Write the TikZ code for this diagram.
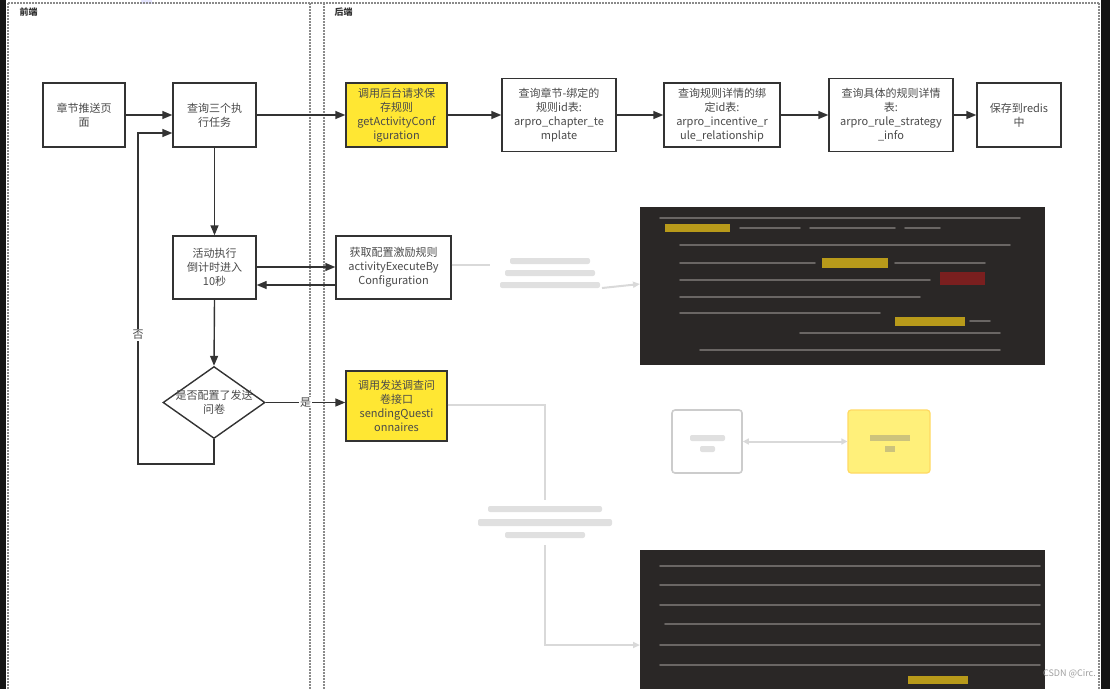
\documentclass[tikz,border=0pt]{standalone}
\usepackage{fontspec}
\setmainfont{Noto Sans CJK SC}
\usetikzlibrary{arrows.meta,shapes.geometric}
\definecolor{ink}{HTML}{333333}
\definecolor{txt}{HTML}{4A4A4A}
\definecolor{hl}{HTML}{FFE733}
\definecolor{hlsoft}{HTML}{FFF07A}
\definecolor{frame}{HTML}{8A8A8A}
\definecolor{dark}{HTML}{2A2726}
\definecolor{codeline}{HTML}{6A6664}
\definecolor{codeyel}{HTML}{B89A1A}
\definecolor{codered}{HTML}{7A1F1F}
\begin{document}
\begin{tikzpicture}[x=1pt,y=-1pt,
  every node/.style={font=\fontsize{11}{14}\selectfont, text=txt},
  box/.style={draw=ink, line width=1.4pt, fill=white, inner sep=0pt, align=center},
  ybox/.style={box, fill=hl},
  flow/.style={draw=ink, line width=1.4pt, -{Triangle[length=10pt,width=8pt]}},
  lane/.style={draw=frame, line width=1.2pt, dash pattern=on 1.5pt off 1.5pt},
  ghost/.style={draw=gray!30, line width=2pt},
  smudge/.style={fill=gray!24, draw=none, rounded corners=2pt},
  code/.style={draw=codeline, line width=1.6pt, line cap=round},
  lbl/.style={fill=white, inner sep=1pt, font=\fontsize{11}{13}\selectfont}
]
\useasboundingbox (0,0) rectangle (1110,689);
% side bars
\fill[black!92] (0,0) rectangle (6,689);
\fill[black!92] (1101,0) rectangle (1110,689);
\fill[blue!10] (141,0) rectangle (152,4);
% frame
\draw[lane] (8,3) -- (1099,3);
\draw[lane] (8,3) -- (8,689);
\draw[lane] (1099,3) -- (1099,689);
\draw[lane] (310,3) -- (310,689);
\draw[lane] (324,3) -- (324,689);
\node[font=\bfseries\fontsize{9}{11}\selectfont, text=ink, anchor=west] (fe) at (16,12) {前端};
\node[font=\bfseries\fontsize{9}{11}\selectfont, text=ink, anchor=west] (be) at (331,12) {后端};

% main flow
\node[box, minimum width=82pt, minimum height=64pt] (A) at (84,115) {章节推送页\\面};
\node[box, minimum width=83pt, minimum height=64pt] (B) at (214.5,115) {查询三个执\\行任务};
\node[ybox, minimum width=101pt, minimum height=64pt] (C) at (396.5,115) {调用后台请求保\\存规则\\getActivityConf\\iguration};
\node[box, minimum width=114pt, minimum height=73pt] (D) at (559,115) {查询章节-绑定的\\规则id表:\\arpro\_chapter\_te\\mplate};
\node[box, minimum width=116pt, minimum height=64pt] (E) at (722,115) {查询规则详情的绑\\定id表:\\arpro\_incentive\_r\\ule\_relationship};
\node[box, minimum width=124pt, minimum height=73pt] (F) at (891,115) {查询具体的规则详情\\表:\\arpro\_rule\_strategy\\\_info};
\node[box, minimum width=84pt, minimum height=64pt] (G) at (1019,115) {保存到redis\\中};
\node[box, minimum width=83pt, minimum height=63pt] (H) at (214.5,267.5) {活动执行\\倒计时进入\\10秒};
\node[box, minimum width=115pt, minimum height=63pt] (I) at (393.5,267.5) {获取配置激励规则\\activityExecuteBy\\Configuration};
\node[draw=ink, line width=1.4pt, fill=white, shape=diamond, inner sep=0pt, minimum width=102pt, minimum height=72pt] (J) at (214,402.5) {};
\node[align=center] (Jt) at (J.center) {是否配置了发送\\问卷};
\node[ybox, minimum width=101pt, minimum height=70pt] (K) at (396.5,406) {调用发送调查问\\卷接口\\sendingQuesti\\onnaires};

\draw[flow] (A.east) -- (B.west);
\draw[flow] (B.east) -- (C.west);
\draw[flow] (C.east) -- (D.west);
\draw[flow] (D.east) -- (E.west);
\draw[flow] (E.east) -- (F.west);
\draw[flow] (F.east) -- (G.west);
\draw[flow] (B.south) -- (H.north);
\draw[flow] (H.east |- 0,267) -- (I.west |- 0,267);
\draw[flow] (I.west |- 0,285) -- (H.east |- 0,285);
\draw[flow] (H.south) -- (J.north);
\draw[flow] (J.east) -- (K.west |- J.east) node[lbl, pos=0.5] (yes) {是};
\draw[flow] (J.south) -- (214,464) -- (138,464) -- (138,133) -- (B.west |- 0,133);
\node[lbl] (no) at (138,335) {否};

% blurred right-hand part
\draw[ghost] (I.east |- 0,265) -- (490,265);
\fill[smudge] (510,258) rectangle (590,264);
\fill[smudge] (505,270) rectangle (595,276);
\fill[smudge] (500,282) rectangle (600,288);
\draw[ghost, -{Triangle[length=7pt,width=6pt]}] (602,288) -- (640,284);

\node[fill=dark, draw=none, inner sep=0pt, minimum width=405pt, minimum height=158pt, anchor=north west] (S1) at (640,207) {};
\draw[code] (660,218) -- (1020,218);
\fill[codeyel] (665,224) rectangle (730,232);
\draw[code] (740,228) -- (800,228);
\draw[code] (810,228) -- (895,228);
\draw[code] (905,228) -- (940,228);
\draw[code] (680,245) -- (1010,245);
\fill[codeyel] (822,258) rectangle (888,268);
\draw[code] (680,263) -- (815,263);
\draw[code] (895,263) -- (985,263);
\fill[codered] (940,272) rectangle (985,285);
\draw[code] (680,280) -- (930,280);
\draw[code] (680,297) -- (920,297);
\draw[code] (680,313) -- (880,313);
\fill[codeyel] (895,317) rectangle (965,326);
\draw[code] (970,321) -- (990,321);
\draw[code] (800,333) -- (1000,333);
\draw[code] (700,350) -- (1000,350);

\draw[ghost] (K.east |- 0,405) -- (545,405) -- (545,500);
\fill[smudge] (488,506) rectangle (602,512);
\fill[smudge] (478,519) rectangle (612,526);
\fill[smudge] (505,532) rectangle (585,538);
\draw[ghost, -{Triangle[length=7pt,width=6pt]}] (545,545) -- (545,645) -- (640,645);

\node[draw=gray!40, line width=1.6pt, fill=white, rounded corners=3pt, minimum width=70pt, minimum height=63pt] (L) at (707,441.5) {};
\fill[smudge] (690,435) rectangle (725,441);
\fill[smudge] (700,446) rectangle (715,452);
\node[draw=hlsoft!80!orange, line width=1.2pt, fill=hlsoft, rounded corners=3pt, minimum width=82pt, minimum height=63pt] (M) at (889,441.5) {};
\fill[gray!40!hlsoft] (870,435) rectangle (910,441);
\fill[gray!40!hlsoft] (885,446) rectangle (895,452);
\draw[ghost, {Triangle[length=6pt,width=6pt]}-{Triangle[length=6pt,width=6pt]}] (L.east) -- (M.west);

\node[fill=dark, draw=none, inner sep=0pt, minimum width=405pt, minimum height=139pt, anchor=north west] (S2) at (640,550) {};
\draw[code] (660,566) -- (1040,566);
\draw[code] (660,585) -- (1040,585);
\draw[code] (660,605) -- (1040,605);
\draw[code] (665,624) -- (1040,624);
\draw[code] (660,645) -- (1040,645);
\draw[code] (660,665) -- (1040,665);
\fill[codeyel] (908,676) rectangle (968,684);

\node[font=\fontsize{9}{10}\selectfont, text=gray!75, anchor=east, inner sep=1pt] (wm) at (1097,674) {CSDN @Circ.};
\end{tikzpicture}
\end{document}
